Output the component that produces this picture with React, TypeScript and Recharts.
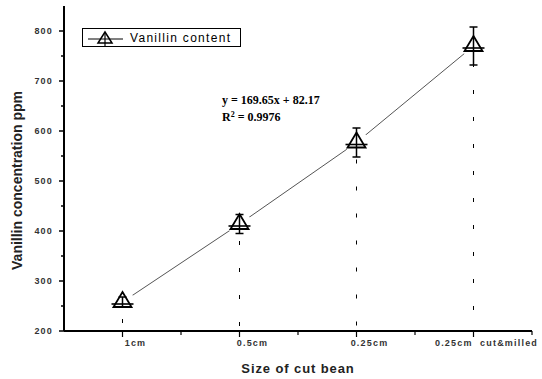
import { ComposedChart, Line, Scatter, ErrorBar, XAxis, YAxis, ReferenceLine } from "recharts";

const categories = ["1cm", "0.5cm", "0.25cm", "0.25cm  cut&milled"];
const positions = [1, 2, 3, 4];
const vanillin = [258, 414, 577, 770];
const errors = [10, 19, 29, 38];
const xTicks = [1, 1.5, 2, 2.5, 3, 3.5, 4, 4.5];
const yTicks = [200, 250, 300, 350, 400, 450, 500, 550, 600, 650, 700, 750, 800];

const data = positions.map((p, i) => ({
  pos: p,
  label: categories[i],
  value: vanillin[i],
  err: errors[i],
}));

const tickFont = {
  fontFamily: "'Liberation Sans', Arial, sans-serif",
  fontWeight: 700,
  fontSize: 9,
  letterSpacing: 1.2,
  fill: "#333",
};

function YTick({ x, y, payload }: any) {
  const major = payload.value % 100 === 0;
  return (
    <g>
      <line x1={x} y1={y} x2={x - (major ? 5 : 3)} y2={y} stroke="#000" strokeWidth={1.5} />
      {major && (
        <text x={x - 11} y={y + 3} textAnchor="end" style={tickFont}>
          {payload.value}
        </text>
      )}
    </g>
  );
}

function XTick({ x, y, payload }: any) {
  const idx = positions.indexOf(payload.value);
  const major = idx >= 0;
  return (
    <g>
      <line x1={x} y1={y} x2={x} y2={y + (major ? 6 : 4)} stroke="#000" strokeWidth={1.2} />
      {major && (
        <text x={x + 13} y={y + 15} textAnchor="middle" style={{ ...tickFont, whiteSpace: "pre" }}>
          {categories[idx]}
        </text>
      )}
    </g>
  );
}

function Marker({ cx, cy }: any) {
  if (cx == null || cy == null) return null;
  return (
    <g>
      <path
        d={`M${cx},${cy - 10} L${cx + 9},${cy + 5} L${cx - 9},${cy + 5} Z`}
        fill="none"
        stroke="#000"
        strokeWidth={1.8}
      />
      <line x1={cx - 11} y1={cy + 2} x2={cx + 11} y2={cy + 2} stroke="#000" strokeWidth={1.6} />
    </g>
  );
}

function Mask({ cx, cy }: any) {
  if (cx == null || cy == null) return null;
  return <circle cx={cx} cy={cy} r={12} fill="#fff" />;
}

function YLabel({ viewBox }: any) {
  const cy = viewBox.y + viewBox.height / 2 + 12;
  return (
    <text
      x={22}
      y={cy}
      transform={`rotate(-90 22 ${cy})`}
      textAnchor="middle"
      style={{
        fontFamily: "'Liberation Sans', Arial, sans-serif",
        fontWeight: 700,
        fontSize: 14,
        fill: "#222",
      }}
    >
      Vanillin concentration ppm
    </text>
  );
}

export default function App() {
  const extra: any = { zIndex: 2000 };
  return (
    <div style={{ position: "absolute", left: 0, top: 0, width: 542, height: 379, background: "#fff" }}>
      <ComposedChart width={542} height={379} data={data} margin={{ top: 6, right: 10, bottom: 0, left: 8 }}>
        <XAxis
          dataKey="pos"
          type="number"
          domain={[0.5, 4.5]}
          ticks={xTicks}
          interval={0}
          tick={<XTick />}
          tickLine={false}
          tickSize={0}
          tickMargin={0}
          height={48}
          axisLine={{ stroke: "#000", strokeWidth: 2 }}
          label={{
            value: "Size of cut bean",
            position: "insideBottom",
            offset: 6,
            style: {
              fontFamily: "'Liberation Sans', Arial, sans-serif",
              fontWeight: 700,
              fontSize: 13,
              letterSpacing: 0.9,
              fill: "#222",
            },
          }}
        />
        <YAxis
          type="number"
          domain={[200, 850]}
          ticks={yTicks}
          interval={0}
          tick={<YTick />}
          tickLine={false}
          tickSize={0}
          tickMargin={0}
          width={56}
          axisLine={{ stroke: "#000", strokeWidth: 2 }}
          label={<YLabel />}
        />
        {data.map((d) => (
          <ReferenceLine
            key={d.label}
            segment={[
              { x: d.pos, y: d.value },
              { x: d.pos, y: 200 },
            ]}
            stroke="#000"
            strokeWidth={1}
            strokeDasharray="4 23"
            strokeDashoffset={10}
          />
        ))}
        <Line
          dataKey="value"
          stroke="#555"
          strokeWidth={1}
          dot={<Mask />}
          activeDot={false}
          isAnimationActive={false}
          legendType="none"
        />
        <Scatter dataKey="value" shape={<Marker />} isAnimationActive={false} legendType="none" {...extra}>
          <ErrorBar dataKey="err" direction="y" width={4} stroke="#000" strokeWidth={1.5} {...extra} />
        </Scatter>
      </ComposedChart>
      <div
        style={{
          position: "absolute",
          left: 82,
          top: 28,
          border: "1px solid #000",
          background: "#fff",
          width: 159,
          height: 19,
          display: "flex",
          alignItems: "center",
          boxSizing: "border-box",
        }}
      >
        <svg width={44} height={18}>
          <line x1={5} y1={10} x2={40} y2={10} stroke="#000" strokeWidth={1} />
          <path d="M22,3 L29,14 L15,14 Z" fill="none" stroke="#000" strokeWidth={1.5} />
          <line x1={22} y1={3} x2={22} y2={18} stroke="#000" strokeWidth={1.2} />
        </svg>
        <span
          style={{
            marginLeft: 3,
            fontFamily: "'Liberation Sans', Arial, sans-serif",
            fontSize: 12,
            letterSpacing: 1.3,
            color: "#000",
          }}
        >
          Vanillin content
        </span>
      </div>
      <div
        style={{
          position: "absolute",
          left: 222,
          top: 92,
          fontFamily: "'Liberation Serif', 'Times New Roman', serif",
          fontWeight: 700,
          fontSize: 12,
          lineHeight: "17px",
          color: "#000",
          whiteSpace: "pre",
        }}
      >
        <div>y = 169.65x + 82.17</div>
        <div>
          R<sup style={{ fontSize: 8, verticalAlign: "top", lineHeight: "12px" }}>2</sup> = 0.9976
        </div>
      </div>
    </div>
  );
}
